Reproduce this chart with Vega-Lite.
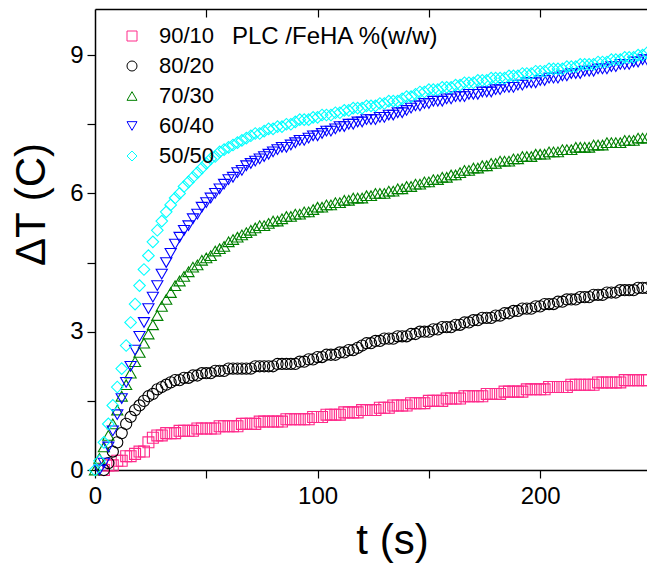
{
"$schema": "https://vega.github.io/schema/vega-lite/v6.json",
"width": 552, "height": 461,
"autosize": {"type": "none"},
"padding": {"left": 95, "top": 9, "right": 0, "bottom": 100},
"background": "white",
"config": {
 "view": {"stroke": null},
 "font": "Liberation Sans",
 "axis": {"grid": false, "domainColor": "black", "domainWidth": 1.5, "tickColor": "black", "tickWidth": 1.2, "labelColor": "black", "labelFontSize": 24, "titleFontSize": 42, "titleFontWeight": "normal", "titleColor": "black"}
},
"datasets": {
"a": [{"t":4,"v":0},{"t":6,"v":0.1},{"t":8,"v":0.1},{"t":10,"v":0.2},{"t":12,"v":0.2},{"t":14,"v":0.3},{"t":16,"v":0.3},{"t":18,"v":0.35},{"t":20,"v":0.4},{"t":22,"v":0.4},{"t":24,"v":0.6},{"t":26,"v":0.7},{"t":28,"v":0.75},{"t":30,"v":0.75},{"t":32,"v":0.8},{"t":34,"v":0.8},{"t":36,"v":0.8},{"t":38,"v":0.85},{"t":40,"v":0.85},{"t":42,"v":0.85},{"t":44,"v":0.85},{"t":46,"v":0.9},{"t":48,"v":0.9},{"t":50,"v":0.9},{"t":52,"v":0.9},{"t":54,"v":0.9},{"t":56,"v":0.95},{"t":58,"v":0.95},{"t":60,"v":0.95},{"t":62,"v":0.95},{"t":64,"v":0.95},{"t":66,"v":1.0},{"t":68,"v":1.0},{"t":70,"v":1.0},{"t":72,"v":1.0},{"t":74,"v":1.05},{"t":76,"v":1.05},{"t":78,"v":1.05},{"t":80,"v":1.05},{"t":82,"v":1.05},{"t":84,"v":1.05},{"t":86,"v":1.1},{"t":88,"v":1.1},{"t":90,"v":1.1},{"t":92,"v":1.1},{"t":94,"v":1.1},{"t":96,"v":1.1},{"t":98,"v":1.15},{"t":100,"v":1.15},{"t":102,"v":1.15},{"t":104,"v":1.2},{"t":106,"v":1.2},{"t":108,"v":1.2},{"t":110,"v":1.2},{"t":112,"v":1.25},{"t":114,"v":1.25},{"t":116,"v":1.25},{"t":118,"v":1.25},{"t":120,"v":1.3},{"t":122,"v":1.3},{"t":124,"v":1.3},{"t":126,"v":1.3},{"t":128,"v":1.35},{"t":130,"v":1.35},{"t":132,"v":1.35},{"t":134,"v":1.4},{"t":136,"v":1.4},{"t":138,"v":1.4},{"t":140,"v":1.4},{"t":142,"v":1.45},{"t":144,"v":1.45},{"t":146,"v":1.45},{"t":148,"v":1.45},{"t":150,"v":1.5},{"t":152,"v":1.5},{"t":154,"v":1.5},{"t":156,"v":1.5},{"t":158,"v":1.55},{"t":160,"v":1.55},{"t":162,"v":1.55},{"t":164,"v":1.55},{"t":166,"v":1.6},{"t":168,"v":1.6},{"t":170,"v":1.6},{"t":172,"v":1.6},{"t":174,"v":1.6},{"t":176,"v":1.65},{"t":178,"v":1.65},{"t":180,"v":1.65},{"t":182,"v":1.65},{"t":184,"v":1.7},{"t":186,"v":1.7},{"t":188,"v":1.7},{"t":190,"v":1.7},{"t":192,"v":1.7},{"t":194,"v":1.75},{"t":196,"v":1.75},{"t":198,"v":1.75},{"t":200,"v":1.75},{"t":202,"v":1.75},{"t":204,"v":1.8},{"t":206,"v":1.8},{"t":208,"v":1.8},{"t":210,"v":1.8},{"t":212,"v":1.8},{"t":214,"v":1.85},{"t":216,"v":1.85},{"t":218,"v":1.85},{"t":220,"v":1.85},{"t":222,"v":1.85},{"t":224,"v":1.85},{"t":226,"v":1.9},{"t":228,"v":1.9},{"t":230,"v":1.9},{"t":232,"v":1.9},{"t":234,"v":1.9},{"t":236,"v":1.9},{"t":238,"v":1.95},{"t":240,"v":1.95},{"t":242,"v":1.95},{"t":244,"v":1.95},{"t":246,"v":1.95},{"t":248,"v":1.95}],
"b": [{"t":4,"v":0},{"t":6,"v":0.15},{"t":8,"v":0.4},{"t":10,"v":0.6},{"t":12,"v":0.8},{"t":14,"v":1.0},{"t":16,"v":1.15},{"t":18,"v":1.3},{"t":20,"v":1.4},{"t":22,"v":1.5},{"t":24,"v":1.6},{"t":26,"v":1.65},{"t":28,"v":1.75},{"t":30,"v":1.8},{"t":32,"v":1.85},{"t":34,"v":1.9},{"t":36,"v":1.95},{"t":38,"v":1.95},{"t":40,"v":2.0},{"t":42,"v":2.0},{"t":44,"v":2.05},{"t":46,"v":2.05},{"t":48,"v":2.1},{"t":50,"v":2.1},{"t":52,"v":2.1},{"t":54,"v":2.15},{"t":56,"v":2.15},{"t":58,"v":2.15},{"t":60,"v":2.2},{"t":62,"v":2.2},{"t":64,"v":2.2},{"t":66,"v":2.2},{"t":68,"v":2.2},{"t":70,"v":2.2},{"t":72,"v":2.25},{"t":74,"v":2.25},{"t":76,"v":2.25},{"t":78,"v":2.25},{"t":80,"v":2.25},{"t":82,"v":2.3},{"t":84,"v":2.3},{"t":86,"v":2.3},{"t":88,"v":2.3},{"t":90,"v":2.3},{"t":92,"v":2.35},{"t":94,"v":2.35},{"t":96,"v":2.4},{"t":98,"v":2.4},{"t":100,"v":2.45},{"t":102,"v":2.45},{"t":104,"v":2.5},{"t":106,"v":2.5},{"t":108,"v":2.5},{"t":110,"v":2.55},{"t":112,"v":2.55},{"t":114,"v":2.6},{"t":116,"v":2.6},{"t":118,"v":2.65},{"t":120,"v":2.7},{"t":122,"v":2.75},{"t":124,"v":2.75},{"t":126,"v":2.8},{"t":128,"v":2.8},{"t":130,"v":2.85},{"t":132,"v":2.85},{"t":134,"v":2.85},{"t":136,"v":2.9},{"t":138,"v":2.9},{"t":140,"v":2.9},{"t":142,"v":2.95},{"t":144,"v":2.95},{"t":146,"v":3.0},{"t":148,"v":3.0},{"t":150,"v":3.0},{"t":152,"v":3.05},{"t":154,"v":3.05},{"t":156,"v":3.1},{"t":158,"v":3.1},{"t":160,"v":3.1},{"t":162,"v":3.15},{"t":164,"v":3.15},{"t":166,"v":3.2},{"t":168,"v":3.2},{"t":170,"v":3.25},{"t":172,"v":3.25},{"t":174,"v":3.3},{"t":176,"v":3.3},{"t":178,"v":3.3},{"t":180,"v":3.35},{"t":182,"v":3.35},{"t":184,"v":3.4},{"t":186,"v":3.4},{"t":188,"v":3.45},{"t":190,"v":3.45},{"t":192,"v":3.5},{"t":194,"v":3.5},{"t":196,"v":3.5},{"t":198,"v":3.55},{"t":200,"v":3.55},{"t":202,"v":3.6},{"t":204,"v":3.6},{"t":206,"v":3.6},{"t":208,"v":3.65},{"t":210,"v":3.65},{"t":212,"v":3.7},{"t":214,"v":3.7},{"t":216,"v":3.7},{"t":218,"v":3.75},{"t":220,"v":3.75},{"t":222,"v":3.75},{"t":224,"v":3.8},{"t":226,"v":3.8},{"t":228,"v":3.8},{"t":230,"v":3.85},{"t":232,"v":3.85},{"t":234,"v":3.85},{"t":236,"v":3.9},{"t":238,"v":3.9},{"t":240,"v":3.9},{"t":242,"v":3.9},{"t":244,"v":3.95},{"t":246,"v":3.95},{"t":248,"v":3.95}],
"c": [{"t":0,"v":0},{"t":2,"v":0.25},{"t":4,"v":0.5},{"t":6,"v":0.75},{"t":8,"v":1.0},{"t":10,"v":1.3},{"t":12,"v":1.6},{"t":14,"v":1.85},{"t":16,"v":2.1},{"t":18,"v":2.35},{"t":20,"v":2.55},{"t":22,"v":2.75},{"t":24,"v":2.95},{"t":26,"v":3.15},{"t":28,"v":3.35},{"t":30,"v":3.55},{"t":32,"v":3.7},{"t":34,"v":3.85},{"t":36,"v":4.0},{"t":38,"v":4.1},{"t":40,"v":4.2},{"t":42,"v":4.3},{"t":44,"v":4.4},{"t":46,"v":4.45},{"t":48,"v":4.55},{"t":50,"v":4.6},{"t":52,"v":4.65},{"t":54,"v":4.75},{"t":56,"v":4.8},{"t":58,"v":4.85},{"t":60,"v":4.95},{"t":62,"v":5.0},{"t":64,"v":5.05},{"t":66,"v":5.1},{"t":68,"v":5.15},{"t":70,"v":5.2},{"t":72,"v":5.25},{"t":74,"v":5.3},{"t":76,"v":5.3},{"t":78,"v":5.35},{"t":80,"v":5.4},{"t":82,"v":5.4},{"t":84,"v":5.45},{"t":86,"v":5.5},{"t":88,"v":5.5},{"t":90,"v":5.55},{"t":92,"v":5.55},{"t":94,"v":5.6},{"t":96,"v":5.6},{"t":98,"v":5.65},{"t":100,"v":5.7},{"t":102,"v":5.7},{"t":104,"v":5.75},{"t":106,"v":5.75},{"t":108,"v":5.8},{"t":110,"v":5.8},{"t":112,"v":5.85},{"t":114,"v":5.85},{"t":116,"v":5.9},{"t":118,"v":5.9},{"t":120,"v":5.9},{"t":122,"v":5.95},{"t":124,"v":5.95},{"t":126,"v":6.0},{"t":128,"v":6.0},{"t":130,"v":6.0},{"t":132,"v":6.05},{"t":134,"v":6.05},{"t":136,"v":6.1},{"t":138,"v":6.1},{"t":140,"v":6.15},{"t":142,"v":6.15},{"t":144,"v":6.2},{"t":146,"v":6.2},{"t":148,"v":6.25},{"t":150,"v":6.25},{"t":152,"v":6.3},{"t":154,"v":6.3},{"t":156,"v":6.35},{"t":158,"v":6.35},{"t":160,"v":6.4},{"t":162,"v":6.4},{"t":164,"v":6.45},{"t":166,"v":6.5},{"t":168,"v":6.5},{"t":170,"v":6.55},{"t":172,"v":6.55},{"t":174,"v":6.6},{"t":176,"v":6.6},{"t":178,"v":6.65},{"t":180,"v":6.65},{"t":182,"v":6.7},{"t":184,"v":6.7},{"t":186,"v":6.7},{"t":188,"v":6.75},{"t":190,"v":6.75},{"t":192,"v":6.8},{"t":194,"v":6.8},{"t":196,"v":6.8},{"t":198,"v":6.85},{"t":200,"v":6.85},{"t":202,"v":6.85},{"t":204,"v":6.9},{"t":206,"v":6.9},{"t":208,"v":6.9},{"t":210,"v":6.95},{"t":212,"v":6.95},{"t":214,"v":6.95},{"t":216,"v":7.0},{"t":218,"v":7.0},{"t":220,"v":7.0},{"t":222,"v":7.0},{"t":224,"v":7.05},{"t":226,"v":7.05},{"t":228,"v":7.05},{"t":230,"v":7.1},{"t":232,"v":7.1},{"t":234,"v":7.1},{"t":236,"v":7.1},{"t":238,"v":7.15},{"t":240,"v":7.15},{"t":242,"v":7.15},{"t":244,"v":7.2},{"t":246,"v":7.2},{"t":248,"v":7.2}],
"d": [{"t":2,"v":0},{"t":4,"v":0.15},{"t":6,"v":0.5},{"t":8,"v":0.85},{"t":10,"v":1.2},{"t":12,"v":1.55},{"t":14,"v":1.9},{"t":16,"v":2.25},{"t":18,"v":2.6},{"t":20,"v":2.9},{"t":22,"v":3.2},{"t":24,"v":3.5},{"t":26,"v":3.75},{"t":28,"v":4.0},{"t":30,"v":4.25},{"t":32,"v":4.5},{"t":34,"v":4.7},{"t":36,"v":4.9},{"t":38,"v":5.05},{"t":40,"v":5.2},{"t":42,"v":5.3},{"t":44,"v":5.45},{"t":46,"v":5.55},{"t":48,"v":5.7},{"t":50,"v":5.8},{"t":52,"v":5.9},{"t":54,"v":6.0},{"t":56,"v":6.1},{"t":58,"v":6.2},{"t":60,"v":6.3},{"t":62,"v":6.35},{"t":64,"v":6.45},{"t":66,"v":6.5},{"t":68,"v":6.6},{"t":70,"v":6.65},{"t":72,"v":6.7},{"t":74,"v":6.75},{"t":76,"v":6.8},{"t":78,"v":6.85},{"t":80,"v":6.9},{"t":82,"v":6.95},{"t":84,"v":7.0},{"t":86,"v":7.0},{"t":88,"v":7.05},{"t":90,"v":7.1},{"t":92,"v":7.15},{"t":94,"v":7.15},{"t":96,"v":7.2},{"t":98,"v":7.25},{"t":100,"v":7.25},{"t":102,"v":7.3},{"t":104,"v":7.35},{"t":106,"v":7.35},{"t":108,"v":7.4},{"t":110,"v":7.45},{"t":112,"v":7.45},{"t":114,"v":7.5},{"t":116,"v":7.5},{"t":118,"v":7.55},{"t":120,"v":7.55},{"t":122,"v":7.6},{"t":124,"v":7.6},{"t":126,"v":7.6},{"t":128,"v":7.65},{"t":130,"v":7.65},{"t":132,"v":7.7},{"t":134,"v":7.7},{"t":136,"v":7.75},{"t":138,"v":7.75},{"t":140,"v":7.8},{"t":142,"v":7.85},{"t":144,"v":7.9},{"t":146,"v":7.9},{"t":148,"v":7.95},{"t":150,"v":7.95},{"t":152,"v":8.0},{"t":154,"v":8.0},{"t":156,"v":8.0},{"t":158,"v":8.05},{"t":160,"v":8.05},{"t":162,"v":8.1},{"t":164,"v":8.1},{"t":166,"v":8.1},{"t":168,"v":8.15},{"t":170,"v":8.15},{"t":172,"v":8.15},{"t":174,"v":8.2},{"t":176,"v":8.2},{"t":178,"v":8.2},{"t":180,"v":8.25},{"t":182,"v":8.25},{"t":184,"v":8.3},{"t":186,"v":8.3},{"t":188,"v":8.3},{"t":190,"v":8.35},{"t":192,"v":8.35},{"t":194,"v":8.4},{"t":196,"v":8.4},{"t":198,"v":8.4},{"t":200,"v":8.45},{"t":202,"v":8.45},{"t":204,"v":8.5},{"t":206,"v":8.5},{"t":208,"v":8.5},{"t":210,"v":8.55},{"t":212,"v":8.55},{"t":214,"v":8.6},{"t":216,"v":8.6},{"t":218,"v":8.6},{"t":220,"v":8.65},{"t":222,"v":8.65},{"t":224,"v":8.65},{"t":226,"v":8.7},{"t":228,"v":8.7},{"t":230,"v":8.7},{"t":232,"v":8.75},{"t":234,"v":8.75},{"t":236,"v":8.8},{"t":238,"v":8.8},{"t":240,"v":8.8},{"t":242,"v":8.85},{"t":244,"v":8.85},{"t":246,"v":8.9},{"t":248,"v":8.9}],
"e": [{"t":0,"v":0},{"t":2,"v":0.2},{"t":4,"v":0.6},{"t":6,"v":1.0},{"t":8,"v":1.4},{"t":10,"v":1.8},{"t":12,"v":2.2},{"t":14,"v":2.7},{"t":16,"v":3.2},{"t":18,"v":3.6},{"t":20,"v":4.0},{"t":22,"v":4.35},{"t":24,"v":4.65},{"t":26,"v":4.95},{"t":28,"v":5.2},{"t":30,"v":5.4},{"t":32,"v":5.6},{"t":34,"v":5.75},{"t":36,"v":5.9},{"t":38,"v":6.0},{"t":40,"v":6.15},{"t":42,"v":6.25},{"t":44,"v":6.35},{"t":46,"v":6.45},{"t":48,"v":6.55},{"t":50,"v":6.65},{"t":52,"v":6.75},{"t":54,"v":6.8},{"t":56,"v":6.9},{"t":58,"v":6.95},{"t":60,"v":7.0},{"t":62,"v":7.05},{"t":64,"v":7.1},{"t":66,"v":7.15},{"t":68,"v":7.2},{"t":70,"v":7.25},{"t":72,"v":7.3},{"t":74,"v":7.3},{"t":76,"v":7.35},{"t":78,"v":7.4},{"t":80,"v":7.4},{"t":82,"v":7.45},{"t":84,"v":7.45},{"t":86,"v":7.5},{"t":88,"v":7.5},{"t":90,"v":7.55},{"t":92,"v":7.6},{"t":94,"v":7.6},{"t":96,"v":7.6},{"t":98,"v":7.65},{"t":100,"v":7.65},{"t":102,"v":7.7},{"t":104,"v":7.7},{"t":106,"v":7.7},{"t":108,"v":7.75},{"t":110,"v":7.75},{"t":112,"v":7.8},{"t":114,"v":7.8},{"t":116,"v":7.85},{"t":118,"v":7.85},{"t":120,"v":7.85},{"t":122,"v":7.9},{"t":124,"v":7.9},{"t":126,"v":7.9},{"t":128,"v":7.95},{"t":130,"v":7.95},{"t":132,"v":8.0},{"t":134,"v":8.0},{"t":136,"v":8.0},{"t":138,"v":8.05},{"t":140,"v":8.1},{"t":142,"v":8.1},{"t":144,"v":8.15},{"t":146,"v":8.2},{"t":148,"v":8.2},{"t":150,"v":8.25},{"t":152,"v":8.25},{"t":154,"v":8.25},{"t":156,"v":8.3},{"t":158,"v":8.3},{"t":160,"v":8.3},{"t":162,"v":8.35},{"t":164,"v":8.35},{"t":166,"v":8.4},{"t":168,"v":8.4},{"t":170,"v":8.4},{"t":172,"v":8.45},{"t":174,"v":8.45},{"t":176,"v":8.45},{"t":178,"v":8.5},{"t":180,"v":8.5},{"t":182,"v":8.5},{"t":184,"v":8.5},{"t":186,"v":8.55},{"t":188,"v":8.55},{"t":190,"v":8.55},{"t":192,"v":8.6},{"t":194,"v":8.6},{"t":196,"v":8.6},{"t":198,"v":8.65},{"t":200,"v":8.65},{"t":202,"v":8.65},{"t":204,"v":8.7},{"t":206,"v":8.7},{"t":208,"v":8.7},{"t":210,"v":8.7},{"t":212,"v":8.75},{"t":214,"v":8.75},{"t":216,"v":8.75},{"t":218,"v":8.8},{"t":220,"v":8.8},{"t":222,"v":8.8},{"t":224,"v":8.8},{"t":226,"v":8.85},{"t":228,"v":8.85},{"t":230,"v":8.85},{"t":232,"v":8.9},{"t":234,"v":8.9},{"t":236,"v":8.9},{"t":238,"v":8.95},{"t":240,"v":8.95},{"t":242,"v":8.95},{"t":244,"v":9.0},{"t":246,"v":9.0},{"t":248,"v":9.05}]
},
"layer": [
 {
  "encoding": {
   "x": {"field": "t", "type": "quantitative", "scale": {"domain": [0, 248], "nice": false},
    "axis": {"values": [0, 50, 100, 150, 200], "labelExpr": "datum.value % 100 === 0 ? datum.label : ''", "tickSize": 8, "labelPadding": 6, "title": "t (s)", "titleX": 297, "titleY": 70, "titleBaseline": "middle", "labelFlush": false}},
   "y": {"field": "v", "type": "quantitative", "scale": {"domain": [0, 10], "nice": false},
    "axis": {"values": [0, 1.5, 3, 4.5, 6, 7.5, 9], "labelExpr": "datum.value % 3 === 0 ? datum.label : ''", "tickSize": 8, "labelPadding": 4, "title": "ΔT (C)", "titleX": -64, "titleY": 195, "titleBaseline": "middle", "titleAlign": "center", "labelFlush": false}}
  },
  "layer": [
   {"data": {"name": "a"}, "mark": {"type": "point", "filled": false, "size": 120, "strokeWidth": 1.1, "opacity": 1},
    "encoding": {"color": {"datum": "90/10", "title": "PLC /FeHA %(w/w)", "scale": {"domain": ["90/10", "80/20", "70/30", "60/40", "50/50"], "range": ["#FF2A8A", "#000000", "#008000", "#0000FF", "#00FFFF"]},
      "legend": {"orient": "none", "legendX": 26, "legendY": 16, "padding": 0, "symbolSize": 100, "symbolStrokeWidth": 1, "labelFontSize": 22, "labelOffset": 16, "rowPadding": 8, "titleOrient": "right", "titleAnchor": "start", "titleFontSize": 24, "titleFontWeight": "normal", "titlePadding": 18, "titleLimit": 400, "titleColor": "black", "labelColor": "black"}},
     "shape": {"datum": "90/10", "title": "PLC /FeHA %(w/w)", "scale": {"domain": ["90/10", "80/20", "70/30", "60/40", "50/50"], "range": ["square", "circle", "triangle-up", "triangle-down", "diamond"]}}}},
   {"data": {"name": "b"}, "mark": {"type": "point", "filled": false, "size": 125, "strokeWidth": 1.1, "opacity": 1},
    "encoding": {"color": {"datum": "80/20", "title": "PLC /FeHA %(w/w)"}, "shape": {"datum": "80/20", "title": "PLC /FeHA %(w/w)"}}},
   {"data": {"name": "c"}, "mark": {"type": "point", "filled": false, "size": 125, "strokeWidth": 1.1, "opacity": 1},
    "encoding": {"color": {"datum": "70/30", "title": "PLC /FeHA %(w/w)"}, "shape": {"datum": "70/30", "title": "PLC /FeHA %(w/w)"}}},
   {"data": {"name": "d"}, "mark": {"type": "point", "filled": false, "size": 125, "strokeWidth": 1.1, "opacity": 1},
    "encoding": {"color": {"datum": "60/40", "title": "PLC /FeHA %(w/w)"}, "shape": {"datum": "60/40", "title": "PLC /FeHA %(w/w)"}}},
   {"data": {"name": "e"}, "mark": {"type": "point", "filled": false, "size": 135, "strokeWidth": 1.1, "opacity": 1},
    "encoding": {"color": {"datum": "50/50", "title": "PLC /FeHA %(w/w)"}, "shape": {"datum": "50/50", "title": "PLC /FeHA %(w/w)"}}}
  ]
 },
 {
  "data": {"name": "a"},
  "mark": {"type": "point", "opacity": 0},
  "encoding": {
   "x": {"field": "t", "type": "quantitative", "scale": {"domain": [0, 248], "nice": false},
    "axis": {"orient": "top", "values": [50, 100, 150, 200], "labels": false, "tickSize": -8, "title": null}},
   "y": {"field": "v", "type": "quantitative", "axis": null}
  }
 }
],
"resolve": {"axis": {"x": "independent", "y": "independent"}}
}
